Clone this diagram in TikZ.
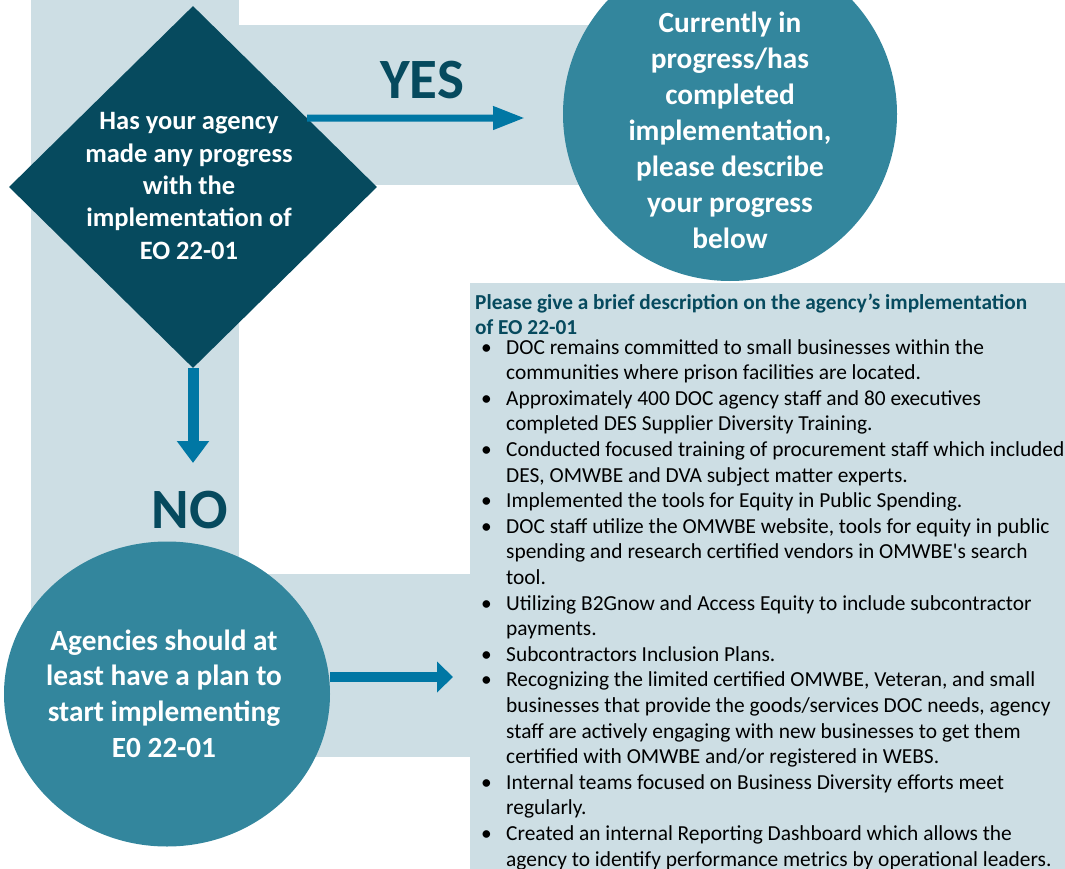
\documentclass[tikz,border=0pt]{standalone}
\usepackage{fontspec}
\setmainfont{Carlito}[Ligatures=TeXOff]
\usetikzlibrary{shapes.geometric,arrows.meta,calc}
\definecolor{band}{HTML}{CDDEE4}
\definecolor{dteal}{HTML}{064A5E}
\definecolor{mteal}{HTML}{33869D}
\definecolor{arrblue}{HTML}{0077A4}
\begin{document}
\begin{tikzpicture}[x=1pt,y=-1pt,
  bandfill/.style={fill=band,draw=none},
  bigtxt/.style={inner sep=0pt,text=white,font=\bfseries\fontsize{29.3}{35.9}\selectfont},
  diatxt/.style={inner sep=0pt,text=white,font=\bfseries\fontsize{26.5}{32.3}\selectfont},
  answer/.style={inner sep=0pt,text=dteal,font=\bfseries\fontsize{57}{60}\selectfont},
  boxtxt/.style={inner sep=0pt,anchor=base west,font=\fontsize{21.4}{25.6}\selectfont},
  arrowyes/.style={draw=arrblue,line width=7pt,-{Triangle[length=32pt,width=22pt]}},
  arrowno/.style={draw=arrblue,line width=11pt,-{Triangle[length=22pt,width=31pt]}},
  arrowplan/.style={draw=arrblue,line width=10pt,-{Triangle[length=16pt,width=30pt]}}]
\useasboundingbox (0,0) rectangle (1065,869);
\clip (0,0) rectangle (1065,869);
% background bands
\fill[bandfill] (31,0) rectangle (239,757);
\fill[bandfill] (239,25) rectangle (620,185);
\fill[bandfill] (239,574) rectangle (470,757);
\node[bandfill,inner sep=0pt,minimum width=600pt,minimum height=590pt,anchor=north west] (desc) at (470,283) {};
% shapes
\node[diamond,fill=dteal,inner sep=0pt,minimum width=368pt,minimum height=362pt] (dia) at (193,187) {};
\node[circle,fill=mteal,inner sep=0pt,minimum size=334pt] (done) at (730,114) {};
\node[ellipse,fill=mteal,inner sep=0pt,minimum width=326pt,minimum height=305pt] (plan) at (167,694) {};
% texts
\node[diatxt,anchor=base] (diatext) at (189,130) {\parbox[t]{230pt}{\centering Has your agency\\made any progress\\with the\\implementation of\\EO 22-01}};
\node[bigtxt,anchor=base] (donetext) at (730,33) {\parbox[t]{300pt}{\centering Currently in\\progress/has\\completed\\implementation,\\please describe\\your progress\\below}};
\node[bigtxt,anchor=base] (plantext) at (164,650) {\parbox[t]{300pt}{\centering Agencies should at\\least have a plan to\\start implementing\\E0 22-01}};
\node[answer] (yes) at (422,80) {YES};
\node[answer] (no) at (190,510) {NO};
% connectors
\coordinate (yesend) at (525,118);
\coordinate (noend) at (193,463);
\coordinate (planend) at (453,677);
\draw[arrowyes] ($(dia.north)!0.62!(dia.east)$) -- (yesend);
\draw[arrowno] (dia.south) -- (noend);
\draw[arrowplan] (plan.east |- planend) -- (planend);
% description box
\node[boxtxt,text=dteal,font=\bfseries\fontsize{21.3}{25}\selectfont] (hdr) at (475,309) {\parbox[t]{590pt}{\raggedright Please give a brief description on the agency’s implementation\\of EO 22-01}};
\node[boxtxt] (list) at (481,354) {\parbox[t]{590pt}{\raggedright
\makebox[25pt][l]{\textbullet}DOC remains committed to small businesses within the\\
\hspace*{25pt}communities where prison facilities are located.\\
\makebox[25pt][l]{\textbullet}Approximately 400 DOC agency staff and 80 executives\\
\hspace*{25pt}completed DES Supplier Diversity Training.\\
\makebox[25pt][l]{\textbullet}Conducted focused training of procurement staff which included\\
\hspace*{25pt}DES, OMWBE and DVA subject matter experts.\\
\makebox[25pt][l]{\textbullet}Implemented the tools for Equity in Public Spending.\\
\makebox[25pt][l]{\textbullet}DOC staff utilize the OMWBE website, tools for equity in public\\
\hspace*{25pt}spending and research certified vendors in OMWBE's search\\
\hspace*{25pt}tool.\\
\makebox[25pt][l]{\textbullet}Utilizing B2Gnow and Access Equity to include subcontractor\\
\hspace*{25pt}payments.\\
\makebox[25pt][l]{\textbullet}Subcontractors Inclusion Plans.\\
\makebox[25pt][l]{\textbullet}Recognizing the limited certified OMWBE, Veteran, and small\\
\hspace*{25pt}businesses that provide the goods/services DOC needs, agency\\
\hspace*{25pt}staff are actively engaging with new businesses to get them\\
\hspace*{25pt}certified with OMWBE and/or registered in WEBS.\\
\makebox[25pt][l]{\textbullet}Internal teams focused on Business Diversity efforts meet\\
\hspace*{25pt}regularly.\\
\makebox[25pt][l]{\textbullet}Created an internal Reporting Dashboard which allows the\\
\hspace*{25pt}agency to identify performance metrics by operational leaders.}};
\end{tikzpicture}
\end{document}
